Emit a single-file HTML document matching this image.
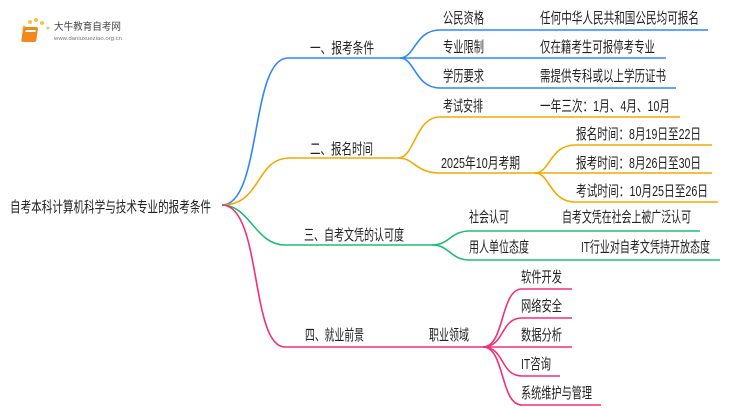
<!DOCTYPE html>
<html><head><meta charset="utf-8"><style>
body{margin:0;background:#fff}
svg{display:block}
text{font-family:"Liberation Sans","Noto Sans CJK SC",sans-serif;font-size:15px;fill:#222}
</style></head><body>
<svg width="750" height="410" viewBox="0 0 750 410">
<g>
<circle cx="30" cy="22" r="2" fill="#f7c44a"/><circle cx="36" cy="20" r="2" fill="#f7c44a"/><circle cx="42" cy="23" r="2" fill="#f7c44a"/><circle cx="24" cy="27" r="1.5" fill="#f7c44a"/><circle cx="48" cy="28" r="1.5" fill="#f7c44a"/>
<rect x="27" y="27" width="15" height="15" rx="2" fill="#f08a1c" transform="skewX(-8)"/>
<rect x="30" y="30" width="10" height="2" fill="#fff" transform="skewX(-8)"/>
<text x="54" y="30" style="font-size:10px;fill:#444" textLength="67" lengthAdjust="spacingAndGlyphs">大牛教育自考网</text>
<text x="54" y="40" style="font-size:5px;fill:#777" textLength="68" lengthAdjust="spacingAndGlyphs">www.daniuxueziao.org.cn</text>
</g>
<text x="10" y="212" textLength="201" lengthAdjust="spacingAndGlyphs">自考本科计算机科学与技术专业的报考条件</text>
<g fill="none" stroke-width="1.6">
<g stroke="#2f87f7">
<path d="M222 205 C262 205 250 58 288 58 L400 58"/>
<path d="M400 58 C415 58 415 30 440 30 L708 30"/>
<path d="M400 58 L666 58"/>
<path d="M400 58 C415 58 415 88 440 88 L676 88"/>
</g>
<g stroke="#f5a900">
<path d="M222 205 C262 205 255 158 290 158 L398 158"/>
<path d="M398 158 C415 158 415 117 440 117 L680 117"/>
<path d="M398 158 C415 158 415 173 440 173 L535 173"/>
<path d="M535 173 C550 173 550 145 575 145 L712 145"/>
<path d="M535 173 L712 173"/>
<path d="M535 173 C550 173 550 202 575 202 L718 202"/>
</g>
<g stroke="#1dbf73">
<path d="M222 205 C250 205 255 245 285 245 L432 245"/>
<path d="M432 245 C450 245 450 231 470 231 L700 231"/>
<path d="M432 245 C450 245 450 260 470 260 L720 260"/>
</g>
<g stroke="#f0307a">
<path d="M222 205 C262 205 250 347 285 347 L483 347"/>
<path d="M483 347 C505 347 500 289 522 289 L572 289"/>
<path d="M483 347 C505 347 500 318 522 318 L572 318"/>
<path d="M483 347 L572 347"/>
<path d="M483 347 C505 347 500 376 522 376 L560 376"/>
<path d="M483 347 C505 347 500 405 522 405 L601 405"/>
</g>
</g>
<text x="310" y="53" textLength="64" lengthAdjust="spacingAndGlyphs">一、报考条件</text>
<text x="443" y="23" textLength="41" lengthAdjust="spacingAndGlyphs">公民资格</text><text x="540" y="23" textLength="159" lengthAdjust="spacingAndGlyphs">任何中华人民共和国公民均可报名</text>
<text x="443" y="52" textLength="41" lengthAdjust="spacingAndGlyphs">专业限制</text><text x="540" y="52" textLength="115" lengthAdjust="spacingAndGlyphs">仅在籍考生可报停考专业</text>
<text x="443" y="81" textLength="41" lengthAdjust="spacingAndGlyphs">学历要求</text><text x="540" y="81" textLength="126" lengthAdjust="spacingAndGlyphs">需提供专科或以上学历证书</text>
<text x="310" y="154" textLength="63" lengthAdjust="spacingAndGlyphs">二、报名时间</text>
<text x="443" y="111" textLength="40" lengthAdjust="spacingAndGlyphs">考试安排</text><text x="540" y="111" textLength="130" lengthAdjust="spacingAndGlyphs">一年三次：1月、4月、10月</text>
<text x="441" y="168" textLength="79" lengthAdjust="spacingAndGlyphs">2025年10月考期</text>
<text x="576" y="139" textLength="125" lengthAdjust="spacingAndGlyphs">报名时间：8月19日至22日</text>
<text x="576" y="168" textLength="125" lengthAdjust="spacingAndGlyphs">报考时间：8月26日至30日</text>
<text x="576" y="196" textLength="132" lengthAdjust="spacingAndGlyphs">考试时间：10月25日至26日</text>
<text x="304" y="240" textLength="100" lengthAdjust="spacingAndGlyphs">三、自考文凭的认可度</text>
<text x="469" y="222" textLength="40" lengthAdjust="spacingAndGlyphs">社会认可</text><text x="562" y="222" textLength="129" lengthAdjust="spacingAndGlyphs">自考文凭在社会上被广泛认可</text>
<text x="469" y="252" textLength="60" lengthAdjust="spacingAndGlyphs">用人单位态度</text><text x="581" y="252" textLength="129" lengthAdjust="spacingAndGlyphs">IT行业对自考文凭持开放态度</text>
<text x="305" y="340" textLength="59" lengthAdjust="spacingAndGlyphs">四、就业前景</text>
<text x="429" y="340" textLength="40" lengthAdjust="spacingAndGlyphs">职业领域</text>
<text x="521" y="282" textLength="41" lengthAdjust="spacingAndGlyphs">软件开发</text>
<text x="521" y="311" textLength="41" lengthAdjust="spacingAndGlyphs">网络安全</text>
<text x="521" y="340" textLength="41" lengthAdjust="spacingAndGlyphs">数据分析</text>
<text x="521" y="369" textLength="30" lengthAdjust="spacingAndGlyphs">IT咨询</text>
<text x="521" y="398" textLength="71" lengthAdjust="spacingAndGlyphs">系统维护与管理</text>
</svg>
</body></html>
